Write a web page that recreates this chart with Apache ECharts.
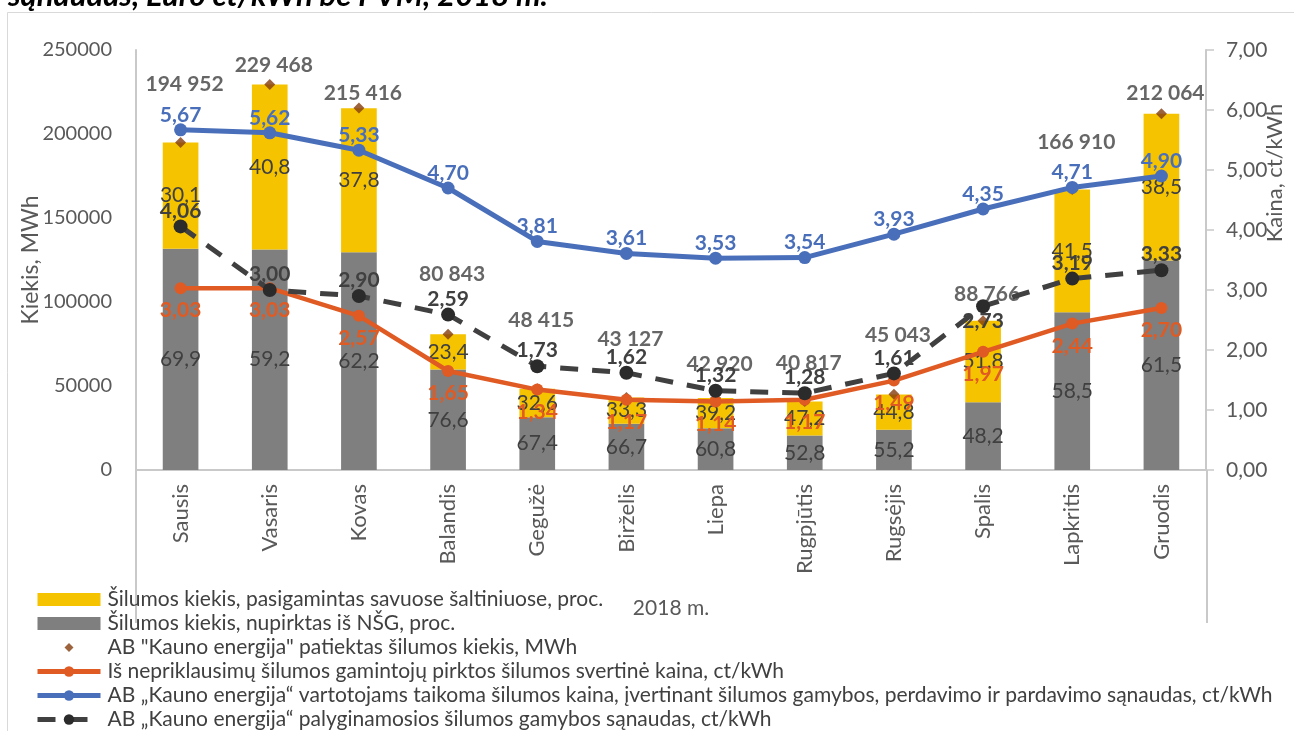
<!DOCTYPE html>
<html>
<head>
<meta charset="utf-8">
<script src="https://cdn.jsdelivr.net/npm/echarts@6/dist/echarts.min.js"></script>
<style>
html,body{margin:0;padding:0;background:#fff;}
#c{width:1294px;height:731px;}
</style>
</head>
<body>
<div id="c"></div>
<script>
// ---- data ----
const months = ['Sausis','Vasaris','Kovas','Balandis','Gegužė','Birželis','Liepa','Rugpjūtis','Rugsėjis','Spalis','Lapkritis','Gruodis'];
const nsgMWh = [131700, 131300, 129600, 59800, 31400, 27500, 24900, 20500, 23900, 40400, 93900, 124700];
const ownMWh = [63300, 98200, 85800, 21000, 17000, 15600, 18000, 20300, 21100, 48400, 73000, 87400];
const ownPct = [30.1, 40.8, 37.8, 23.4, 32.6, 33.3, 39.2, 47.2, 44.8, 51.8, 41.5, 38.5];
const nsgPct = [69.9, 59.2, 62.2, 76.6, 67.4, 66.7, 60.8, 52.8, 55.2, 48.2, 58.5, 61.5];
const totalMWh = [194952, 229468, 215416, 80843, 48415, 43127, 42920, 40817, 45043, 88766, 166910, 212064];
const priceIndependent = [3.03, 3.03, 2.57, 1.65, 1.34, 1.17, 1.14, 1.17, 1.49, 1.97, 2.44, 2.70];
const priceConsumers = [5.67, 5.62, 5.33, 4.70, 3.81, 3.61, 3.53, 3.54, 3.93, 4.35, 4.71, 4.90];
const costComparable = [4.06, 3.00, 2.90, 2.59, 1.73, 1.62, 1.32, 1.28, 1.61, 2.73, 3.19, 3.33];
const leftTicks = {min: 0, max: 250000, interval: 50000};
const rightTicks = {min: 0, max: 7, interval: 1};

const names = [
  'Šilumos kiekis, pasigamintas savuose šaltiniuose, proc.',
  'Šilumos kiekis, nupirktas iš NŠG, proc.',
  'AB "Kauno energija" patiektas šilumos kiekis, MWh',
  'Iš nepriklausimų šilumos gamintojų pirktos šilumos svertinė kaina, ct/kWh',
  'AB „Kauno energija“ vartotojams taikoma šilumos kaina, įvertinant šilumos gamybos, perdavimo ir pardavimo sąnaudas, ct/kWh',
  'AB „Kauno energija“ palyginamosios šilumos gamybos sąnaudas, ct/kWh'
];

// ---- layout / style ----
const FONT = 'Lato';
const GRID = {left: 136, right: 87, top: 50, bottom: 261};
const W = 1294, H = 731;
const totalLabelLift = [58, 19, 15, 60, 68, 58, 34, 38, 59, 27, 47, 20];
const costLabelPos = ['top','top','top','top','top','top','top','top','top','bottom','top','top'];
const C = {yellow:'#F5C300', gray:'#7F7F7F', brown:'#843C0C', orange:'#E05A24', blue:'#4A6FBA', dark:'#404040', text:'#595959', axis:'#C9C9C9'};

const comma = (v, d) => v.toFixed(d).replace('.', ',');
const thous = v => String(v).replace(/\B(?=(\d{3})+(?!\d))/g, ' ');

const chart = echarts.init(document.getElementById('c'), null, {renderer: 'canvas'});
const axisX1 = GRID.left, axisX2 = W - GRID.right, axisY0 = H - GRID.bottom;

chart.setOption({
  animation: false,
  textStyle: {fontFamily: FONT},
  title: {
    text: 'sąnaudas, Euro ct/kWh be PVM, 2018 m.',
    left: 3, top: -25,
    textStyle: {fontFamily: FONT, fontSize: 31, fontWeight: 'bold', fontStyle: 'italic', color: '#000'}
  },
  graphic: [
    {type: 'rect', z: -10, shape: {x: 7.5, y: 12.5, width: 1400, height: 900}, style: {fill: 'none', stroke: '#D9D9D9', lineWidth: 1}},
    {type: 'line', z: -5, shape: {x1: axisX1, y1: axisY0, x2: axisX1, y2: 623}, style: {stroke: C.axis, lineWidth: 2}},
    {type: 'line', z: -5, shape: {x1: axisX2, y1: axisY0, x2: axisX2, y2: 623}, style: {stroke: C.axis, lineWidth: 2}}
  ],
  legend: {
    orient: 'vertical',
    left: 30, top: 584, height: 170,
    itemWidth: 63, itemHeight: 13, itemGap: 3,
    lineStyle: {width: 5},
    textStyle: {fontFamily: FONT, fontSize: 21, color: C.dark, padding: [0,0,0,2]},
    data: [
      {name: names[0], icon: 'rect'},
      {name: names[1], icon: 'rect'},
      {name: names[2], icon: 'path://M0,0 M63,13 M31.5,2 L36,6.5 L31.5,11 L27,6.5 Z'},
      {name: names[3]},
      {name: names[4]},
      {name: names[5]}
    ]
  },
  grid: {left: GRID.left, right: GRID.right, top: GRID.top, bottom: GRID.bottom, containLabel: false},
  xAxis: {
    type: 'category',
    data: months,
    name: '2018 m.',
    nameLocation: 'middle',
    nameGap: 128,
    nameMoveOverlap: false,
    nameTextStyle: {fontFamily: FONT, fontSize: 21, color: C.text},
    axisLine: {lineStyle: {color: C.axis, width: 2}},
    axisTick: {show: false},
    axisLabel: {rotate: 90, margin: 14, fontFamily: FONT, fontSize: 22, color: C.text, interval: 0}
  },
  yAxis: [
    {
      type: 'value',
      min: leftTicks.min, max: leftTicks.max, interval: leftTicks.interval,
      name: 'Kiekis, MWh', nameLocation: 'middle', nameRotate: 90, nameGap: 94,
      nameMoveOverlap: false,
      nameTextStyle: {fontFamily: FONT, fontSize: 23, color: C.text},
      axisLine: {show: true, lineStyle: {color: C.axis, width: 2}},
      axisTick: {show: false},
      splitLine: {show: false},
      axisLabel: {margin: 24, fontFamily: FONT, fontSize: 20, color: C.text, formatter: v => String(v)}
    },
    {
      type: 'value', position: 'right',
      min: rightTicks.min, max: rightTicks.max, interval: rightTicks.interval,
      name: 'Kaina, ct/kWh', nameLocation: 'middle', nameRotate: 90, nameGap: 58,
      nameMoveOverlap: false,
      nameTextStyle: {fontFamily: FONT, fontSize: 22, color: C.text, padding: [0, 0, 0, 174]},
      axisLine: {show: true, lineStyle: {color: C.axis, width: 2}},
      axisTick: {show: true, inside: false, length: 8, lineStyle: {color: C.axis, width: 1.5}},
      splitLine: {show: false},
      axisLabel: {margin: 20, fontFamily: FONT, fontSize: 21, color: C.text, formatter: v => comma(v, 2)}
    }
  ],
  series: [
    {
      name: names[1], type: 'bar', stack: 'q', barWidth: '40%',
      itemStyle: {color: C.gray},
      data: nsgMWh,
      label: {show: true, position: 'inside', fontFamily: FONT, fontSize: 21, color: C.dark,
        formatter: p => comma(nsgPct[p.dataIndex], 1)}
    },
    {
      name: names[0], type: 'bar', stack: 'q', barWidth: '40%',
      itemStyle: {color: C.yellow},
      data: ownMWh,
      label: {show: true, position: 'inside', fontFamily: FONT, fontSize: 21, color: C.dark,
        formatter: p => comma(ownPct[p.dataIndex], 1)}
    },
    {
      name: names[2], type: 'scatter', symbol: 'diamond', symbolSize: 11,
      itemStyle: {color: C.brown},
      z: 3,
      data: totalMWh.map((v, i) => ({
        value: v,
        label: {offset: [4, -totalLabelLift[i]]}
      })),
      label: {show: true, position: 'inside', fontFamily: FONT, fontSize: 21, fontWeight: 'bold', color: C.dark,
        formatter: p => thous(p.value)}
    },
    {
      name: names[3], type: 'line', yAxisIndex: 1, symbol: 'circle', symbolSize: 12,
      lineStyle: {color: C.orange, width: 4.5}, itemStyle: {color: C.orange},
      data: priceIndependent, z: 4,
      label: {show: true, position: 'bottom', distance: 6, fontFamily: FONT, fontSize: 21, fontWeight: 'bold', color: C.orange,
        formatter: p => comma(p.value, 2)}
    },
    {
      name: names[4], type: 'line', yAxisIndex: 1, symbol: 'circle', symbolSize: 13,
      lineStyle: {color: C.blue, width: 5}, itemStyle: {color: C.blue},
      data: priceConsumers, z: 4,
      label: {show: true, position: 'top', distance: -2, fontFamily: FONT, fontSize: 21, fontWeight: 'bold', color: C.blue,
        formatter: p => comma(p.value, 2)}
    },
    {
      name: names[5], type: 'line', yAxisIndex: 1, symbol: 'circle', symbolSize: 14,
      lineStyle: {color: C.dark, width: 5, type: [18, 14]}, itemStyle: {color: '#2B2B2B'},
      data: costComparable.map((v, i) => ({value: v, label: {position: costLabelPos[i]}})), z: 5,
      label: {show: true, position: 'top', distance: -2, fontFamily: FONT, fontSize: 21, fontWeight: 'bold', color: C.dark,
        formatter: p => comma(p.value, 2)}
    }
  ]
});
</script>
</body>
</html>
